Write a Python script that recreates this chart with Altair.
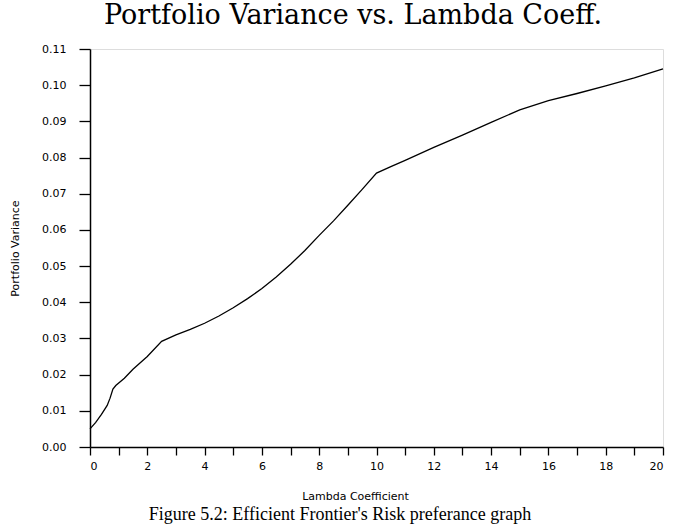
import altair as alt
import pandas as pd

lam = [0.0, 0.2, 0.4, 0.6, 0.7, 0.8, 0.9, 1.2, 1.5, 2.0, 2.5, 3.0, 3.5, 4.0, 4.5,
       5.0, 5.5, 6.0, 6.5, 7.0, 7.5, 8.0, 8.5, 9.0, 9.5, 10.0, 10.5, 11.0, 12.0,
       13.0, 14.0, 15.0, 16.0, 17.0, 18.0, 19.0, 20.0]
variance = [0.0050, 0.0068, 0.0090, 0.0115, 0.0135, 0.0160, 0.0170, 0.0190, 0.0215,
            0.0250, 0.0292, 0.0310, 0.0325, 0.0342, 0.0362, 0.0385, 0.0410, 0.0438,
            0.0470, 0.0505, 0.0543, 0.0585, 0.0625, 0.0668, 0.0712, 0.0757, 0.0775,
            0.0792, 0.0828, 0.0862, 0.0897, 0.0932, 0.0957, 0.0977, 0.0998, 0.1020,
            0.1045]
x_ticks = list(range(0, 21))
y_ticks = [round(i * 0.01, 2) for i in range(0, 12)]

title_text = "Portfolio Variance vs. Lambda Coeff."
caption_text = "Figure 5.2: Efficient Frontier's Risk preferance graph"

df = pd.DataFrame({"lam": lam, "var": variance})

W, H = 573, 398

line = alt.Chart(df).mark_line(color="black", strokeWidth=1.3).encode(
    x=alt.X("lam:Q",
            scale=alt.Scale(domain=[0, 20], nice=False),
            axis=alt.Axis(values=x_ticks,
                          labelExpr="datum.value % 2 == 0 ? datum.label : ''",
                          title="Lambda Coefficient",
                          titleX=265, titleY=49, titleAlign="center",
                          titleBaseline="middle", titleFontSize=11,
                          titleFontWeight="normal", titleFont="DejaVu Sans",
                          tickSize=8, labelPadding=5, labelFontSize=11,
                          labelFont="DejaVu Sans", grid=False,
                          domainColor="black", tickColor="black",
                          labelColor="black", titleColor="black",
                          domainWidth=1.5, tickWidth=1.3)),
    y=alt.Y("var:Q",
            scale=alt.Scale(domain=[0, 0.11], nice=False),
            axis=alt.Axis(values=y_ticks, format=".2f",
                          title="Portfolio Variance",
                          titleX=-75, titleY=H / 2, titleAngle=-90,
                          titleAlign="center", titleBaseline="middle",
                          titleFontSize=11, titleFontWeight="normal",
                          titleFont="DejaVu Sans",
                          tickSize=11, labelPadding=13, labelFontSize=11,
                          labelFont="DejaVu Sans", grid=False,
                          domainColor="black", tickColor="black",
                          labelColor="black", titleColor="black",
                          domainWidth=1.5, tickWidth=1.3)),
)

title_df = pd.DataFrame({"t": [title_text]})
title = alt.Chart(title_df).mark_text(
    font="DejaVu Serif", fontSize=27, color="black",
    align="center", baseline="alphabetic").encode(
    text="t:N", x=alt.value(263), y=alt.value(-25))

cap_df = pd.DataFrame({"t": [caption_text]})
caption = alt.Chart(cap_df).mark_text(
    font="Liberation Serif", fontSize=18, color="black",
    align="center", baseline="middle").encode(
    text="t:N", x=alt.value(250), y=alt.value(466))

chart = alt.layer(line, title, caption).properties(
    width=W, height=H,
    autosize=alt.AutoSizeParams(type="none"),
    padding={"left": 90, "top": 49, "right": 12, "bottom": 79},
).configure_view(stroke="black", strokeWidth=1.5).configure(background="white")

chart.save("out.html", embed_options={"renderer": "svg", "actions": False})
